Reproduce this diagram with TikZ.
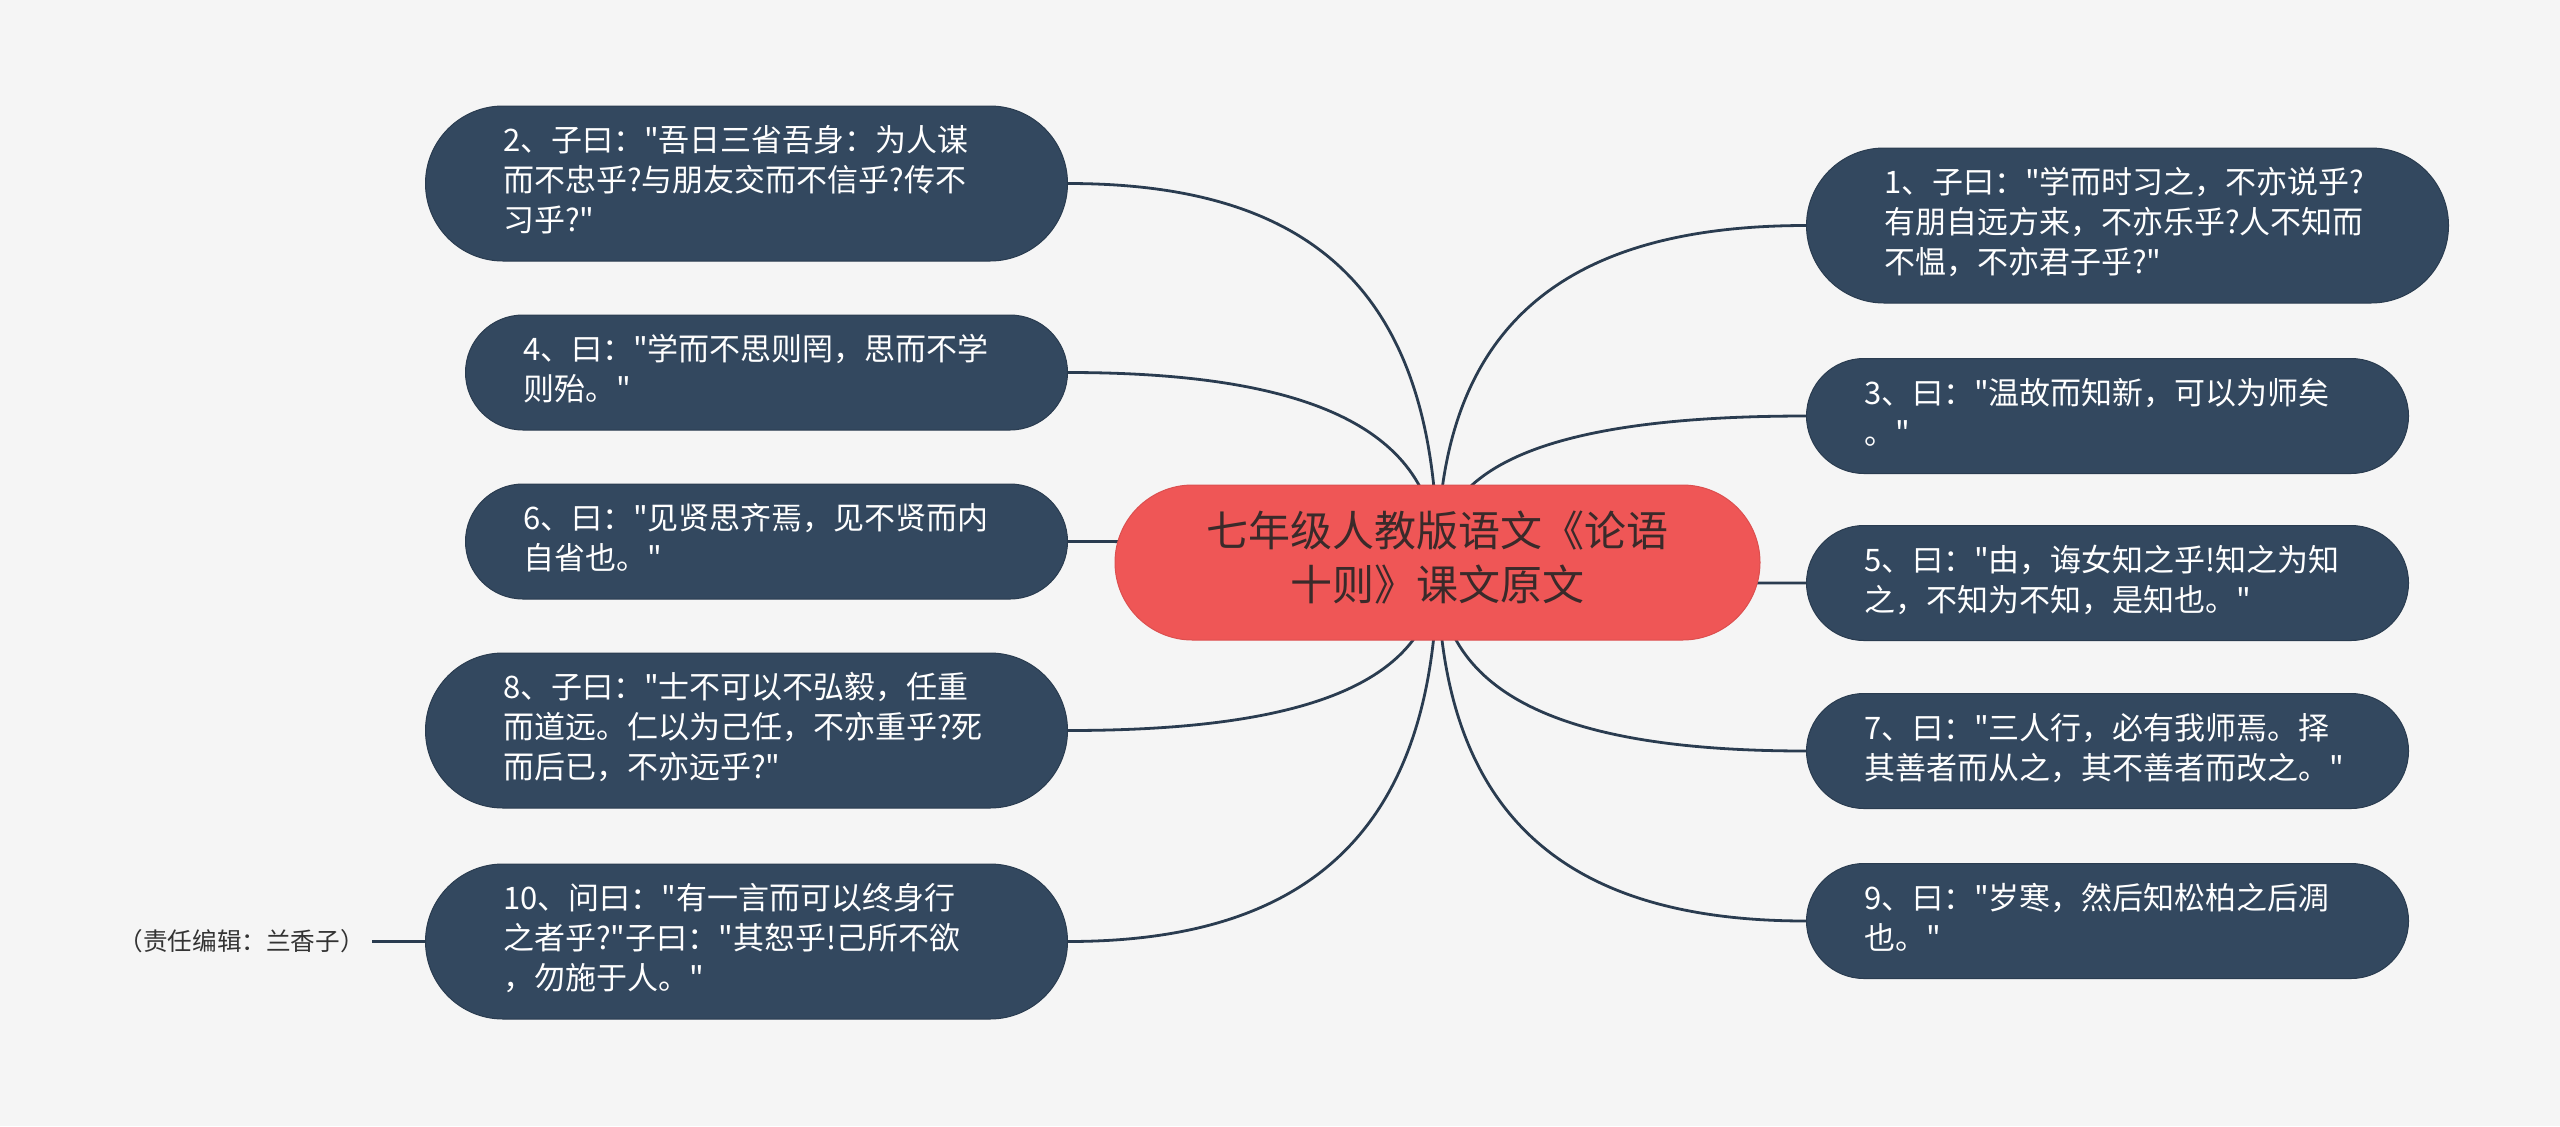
\documentclass[tikz,border=0pt]{standalone}
\usepackage{fontspec}
\setmainfont{Noto Sans CJK SC}[Ligatures=TeXOff]
\definecolor{paper}{HTML}{F5F5F5}
\definecolor{slate}{HTML}{33485F}
\definecolor{slateline}{HTML}{2A3C50}
\definecolor{coral}{HTML}{EF5656}
\definecolor{ink}{HTML}{3A2A2A}
\definecolor{notegray}{HTML}{333333}
\pgfdeclarelayer{back}
\pgfsetlayers{back,main}

\begin{document}
\begin{tikzpicture}[x=0.5pt,y=-0.5pt,
		leaf/.style={rectangle,draw=slateline,line width=0.5pt,fill=slate,text=white,
			text width=243.5pt,align=left,inner xsep=28.75pt,inner ysep=8.75pt,rounded corners=28.75pt,
			font=\fontsize{15.5}{20}\selectfont,execute at begin node=\strut,execute at end node=\strut},
		tall/.style={inner xsep=38.75pt,rounded corners=38.75pt},
		topic/.style={rectangle,draw=coral!92!black,line width=0.5pt,fill=coral,text=ink,
			text width=245pt,align=center,inner xsep=38.75pt,inner ysep=11.75pt,rounded corners=38.75pt,
			font=\fontsize{21}{27}\selectfont,execute at begin node=\strut,execute at end node=\strut},
		twig/.style={draw=slateline,line width=1.4pt}]
		\useasboundingbox (0,0) rectangle (2560,1126);
		% centre
		\node[topic] (title) at (1437.5,562.5) {七年级人教版语文《论语\\十则》课文原文};
		% left side
		\node[leaf,tall,anchor=east] (s2) at (1068,183.5) {2、子曰："吾日三省吾身：为人谋\\而不忠乎?与朋友交而不信乎?传不\\习乎?"};
		\node[leaf,anchor=east] (s4) at (1068,372.5) {4、曰："学而不思则罔，思而不学\\则殆。"};
		\node[leaf,anchor=east] (s6) at (1068,541.5) {6、曰："见贤思齐焉，见不贤而内\\自省也。"};
		\node[leaf,tall,anchor=east] (s8) at (1068,730.5) {8、子曰："士不可以不弘毅，任重\\而道远。仁以为己任，不亦重乎?死\\而后已，不亦远乎?"};
		\node[leaf,tall,anchor=east] (s10) at (1068,941.5) {10、问曰："有一言而可以终身行\\之者乎?"子曰："其恕乎!己所不欲\\，勿施于人。"};
		% right side
		\node[leaf,tall,anchor=west] (s1) at (1806,225.5) {1、子曰："学而时习之，不亦说乎?\\有朋自远方来，不亦乐乎?人不知而\\不愠，不亦君子乎?"};
		\node[leaf,anchor=west] (s3) at (1806,416) {3、曰："温故而知新，可以为师矣\\。"};
		\node[leaf,anchor=west] (s5) at (1806,583) {5、曰："由，诲女知之乎!知之为知\\之，不知为不知，是知也。"};
		\node[leaf,anchor=west] (s7) at (1806,751) {7、曰："三人行，必有我师焉。择\\其善者而从之，其不善者而改之。"};
		\node[leaf,anchor=west] (s9) at (1806,921) {9、曰："岁寒，然后知松柏之后凋\\也。"};
		% editor
		\node[anchor=east,inner xsep=3.5pt,text=notegray,font=\fontsize{12.3}{15}\selectfont] (note) at (372,941.5) {（责任编辑：兰香子）};
		\begin{pgfonlayer}{back}
			\fill[paper] (0,0) rectangle (2560,1126);
			\draw[twig] (title.center) .. controls +(0,-265) and +(251,0) .. (s2.east);
			\draw[twig] (title.center) .. controls +(0,-129) and +(251,0) .. (s4.east);
			\draw[twig] (title.center) .. controls +(0,-14) and +(251,0) .. (s6.east);
			\draw[twig] (title.center) .. controls +(0,115) and +(251,0) .. (s8.east);
			\draw[twig] (title.center) .. controls +(0,258) and +(251,0) .. (s10.east);
			\draw[twig] (title.center) .. controls +(0,-229) and +(-251,0) .. (s1.west);
			\draw[twig] (title.center) .. controls +(0,-99) and +(-251,0) .. (s3.west);
			\draw[twig] (title.center) .. controls +(0,14) and +(-251,0) .. (s5.west);
			\draw[twig] (title.center) .. controls +(0,129) and +(-251,0) .. (s7.west);
			\draw[twig] (title.center) .. controls +(0,244) and +(-251,0) .. (s9.west);
			\draw[twig] (note.east) -- (s10.west);
		\end{pgfonlayer}
\end{tikzpicture}
\end{document}
